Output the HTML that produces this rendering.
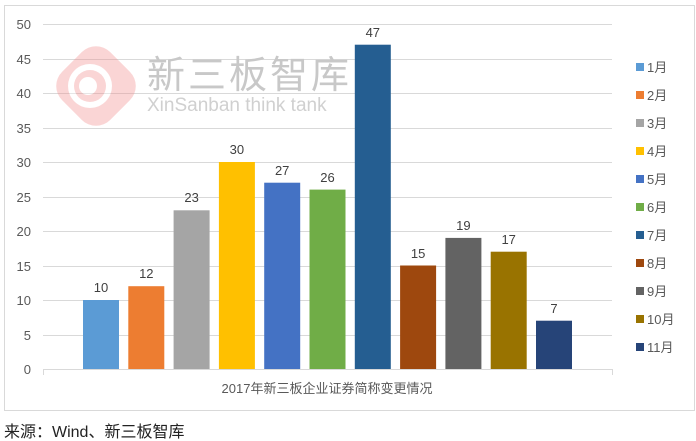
<!DOCTYPE html>
<html><head><meta charset="utf-8"><style>
html,body{margin:0;padding:0;background:#fff;width:696px;height:441px;overflow:hidden}
text{font-family:"Liberation Sans","Noto Sans CJK SC",sans-serif}
</style></head><body>
<svg width="696" height="441" xmlns="http://www.w3.org/2000/svg">
<rect x="4.5" y="5.5" width="690" height="405" fill="#fff" stroke="#d9d9d9"/>
<g stroke="#d9d9d9" stroke-width="1">
<line x1="43" x2="612" y1="24.5" y2="24.5"/>
<line x1="43" x2="612" y1="59.5" y2="59.5"/>
<line x1="43" x2="612" y1="93.5" y2="93.5"/>
<line x1="43" x2="612" y1="128.5" y2="128.5"/>
<line x1="43" x2="612" y1="162.5" y2="162.5"/>
<line x1="43" x2="612" y1="197.5" y2="197.5"/>
<line x1="43" x2="612" y1="231.5" y2="231.5"/>
<line x1="43" x2="612" y1="266.5" y2="266.5"/>
<line x1="43" x2="612" y1="300.5" y2="300.5"/>
<line x1="43" x2="612" y1="335.5" y2="335.5"/>
<line x1="43" x2="612" y1="369.5" y2="369.5"/>
<line x1="43.5" x2="43.5" y1="369" y2="375"/>
<line x1="612.5" x2="612.5" y1="369" y2="375"/>
</g>
<!-- watermark -->
<g opacity="0.35">
<rect x="62" y="52" width="68" height="68" rx="20" transform="rotate(45 96 86) translate(0 0)" fill="#f28a8a"/>
<circle cx="90" cy="86" r="22" fill="#fff"/>
<circle cx="90" cy="86" r="16" fill="#f28a8a"/>
<circle cx="88" cy="86" r="9" fill="#fff"/>
</g>
<text x="147" y="88" font-size="38" fill="#c8c8c8" letter-spacing="3">新三板智库</text>
<text x="147" y="111" font-size="19" fill="#d0d0d0">XinSanban think tank</text>
<g font-size="13" fill="#595959" text-anchor="end">
<text x="31" y="29">50</text><text x="31" y="64">45</text><text x="31" y="98">40</text>
<text x="31" y="133">35</text><text x="31" y="167">30</text><text x="31" y="202">25</text>
<text x="31" y="236">20</text><text x="31" y="271">15</text><text x="31" y="305">10</text>
<text x="31" y="340">5</text><text x="31" y="374">0</text>
</g>
<g>
<rect x="83" y="300" width="36" height="69" fill="#5b9bd5"/>
<rect x="128.3" y="286.2" width="36" height="82.8" fill="#ed7d31"/>
<rect x="173.6" y="210.3" width="36" height="158.7" fill="#a5a5a5"/>
<rect x="218.9" y="162" width="36" height="207" fill="#ffc000"/>
<rect x="264.2" y="182.7" width="36" height="186.3" fill="#4472c4"/>
<rect x="309.5" y="189.6" width="36" height="179.4" fill="#70ad47"/>
<rect x="354.8" y="44.7" width="36" height="324.3" fill="#255e91"/>
<rect x="400.1" y="265.5" width="36" height="103.5" fill="#9e480e"/>
<rect x="445.4" y="237.9" width="36" height="131.1" fill="#636363"/>
<rect x="490.7" y="251.7" width="36" height="117.3" fill="#997300"/>
<rect x="536" y="320.7" width="36" height="48.3" fill="#264478"/>
</g>
<g font-size="13" fill="#404040" text-anchor="middle">
<text x="101" y="292">10</text><text x="146.3" y="278">12</text><text x="191.6" y="202">23</text>
<text x="236.9" y="154">30</text><text x="282.2" y="175">27</text><text x="327.5" y="182">26</text>
<text x="372.8" y="37">47</text><text x="418.1" y="258">15</text><text x="463.4" y="230">19</text>
<text x="508.7" y="244">17</text><text x="554" y="313">7</text>
</g>
<text x="327" y="393" font-size="13" fill="#595959" text-anchor="middle">2017年新三板企业证券简称变更情况</text>
<g font-size="13" fill="#595959">
<rect x="636" y="63" width="8" height="8" fill="#5b9bd5"/><text x="647" y="72">1月</text>
<rect x="636" y="91" width="8" height="8" fill="#ed7d31"/><text x="647" y="100">2月</text>
<rect x="636" y="119" width="8" height="8" fill="#a5a5a5"/><text x="647" y="128">3月</text>
<rect x="636" y="147" width="8" height="8" fill="#ffc000"/><text x="647" y="156">4月</text>
<rect x="636" y="175" width="8" height="8" fill="#4472c4"/><text x="647" y="184">5月</text>
<rect x="636" y="203" width="8" height="8" fill="#70ad47"/><text x="647" y="212">6月</text>
<rect x="636" y="231" width="8" height="8" fill="#255e91"/><text x="647" y="240">7月</text>
<rect x="636" y="259" width="8" height="8" fill="#9e480e"/><text x="647" y="268">8月</text>
<rect x="636" y="287" width="8" height="8" fill="#636363"/><text x="647" y="296">9月</text>
<rect x="636" y="315" width="8" height="8" fill="#997300"/><text x="647" y="324">10月</text>
<rect x="636" y="343" width="8" height="8" fill="#264478"/><text x="647" y="352">11月</text>
</g>
<text x="4" y="437" font-size="16" fill="#222">来源：Wind、新三板智库</text>
</svg>
</body></html>
